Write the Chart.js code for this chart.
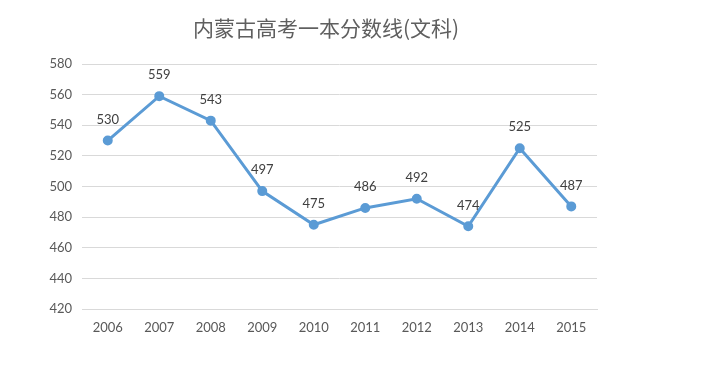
<!DOCTYPE html>
<html>
<head>
<meta charset="utf-8">
<script src="https://cdn.jsdelivr.net/npm/chart.js@4/dist/chart.umd.min.js"></script>
<style>
  html, body { margin: 0; padding: 0; background: #fff; }
  #wrap { width: 710px; height: 368px; position: relative; }
</style>
</head>
<body>
<div id="wrap"><canvas id="grafico" width="710" height="368"></canvas></div>
<script>
const titulo = '内蒙古高考一本分数线(文科)';
const anios = ['2006', '2007', '2008', '2009', '2010', '2011', '2012', '2013', '2014', '2015'];
const puntajes = [530, 559, 543, 497, 475, 486, 492, 474, 525, 487];
const ejeMin = 420, ejeMax = 580, paso = 20;

// titulo y etiquetas de datos dibujados a mano
const extras = {
  id: 'extras',
  afterDatasetsDraw(chart) {
    const ctx = chart.ctx;
    ctx.save();
    ctx.fillStyle = '#5f5f5f';
    ctx.font = '21px "Noto Sans CJK SC", sans-serif';
    ctx.textAlign = 'center';
    ctx.textBaseline = 'middle';
    ctx.fillText(titulo, 326, 28);

    ctx.fillStyle = '#404040';
    ctx.font = '13px Lato, "Open Sans", sans-serif';
    chart.getDatasetMeta(0).data.forEach((p, i) => {
      ctx.fillText(puntajes[i], p.x, p.y - 21);
    });
    ctx.restore();
  }
};

new Chart(document.getElementById('grafico').getContext('2d'), {
  type: 'line',
  data: {
    labels: anios,
    datasets: [{
      data: puntajes,
      borderColor: '#5B9BD5',
      backgroundColor: '#5B9BD5',
      pointBackgroundColor: '#5B9BD5',
      borderWidth: 3,
      pointRadius: 3.5,
      tension: 0
    }]
  },
  options: {
    responsive: false,
    animation: false,
    layout: { padding: { top: 64, left: 22, right: 113, bottom: 28 } },
    plugins: { legend: { display: false }, tooltip: { enabled: false } },
    scales: {
      x: {
        offset: true,
        grid: { display: false, drawTicks: false },
        border: { color: '#d9d9d9' },
        ticks: { color: '#595959', font: { family: 'Lato', size: 13 }, padding: 11 },
        afterFit: s => { s.height = 31; }
      },
      y: {
        min: ejeMin,
        max: ejeMax,
        grid: { color: '#d9d9d9', drawTicks: false },
        border: { display: false },
        ticks: { stepSize: paso, color: '#595959', font: { family: 'Lato', size: 13 }, padding: 10 },
        afterFit: s => { s.width = 60; }
      }
    }
  },
  plugins: [extras]
});
</script>
</body>
</html>
